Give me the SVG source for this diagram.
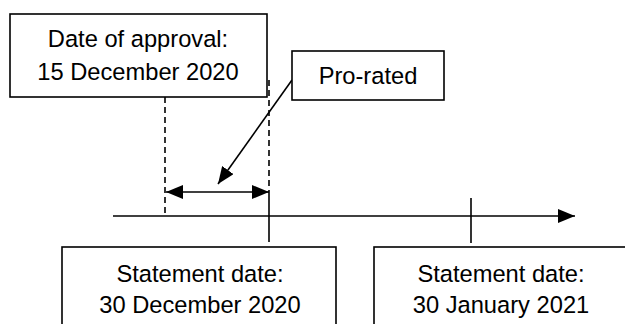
<svg xmlns="http://www.w3.org/2000/svg" width="625" height="324" viewBox="0 0 625 324">
<style>
.box{fill:#fff;stroke:#000;stroke-width:1.6}
.t{font-family:"Liberation Sans",Arial,sans-serif;font-size:23.7px;fill:#000;text-anchor:middle}
.ln{stroke:#000;stroke-width:1.6;fill:none}
.dash{stroke:#000;stroke-width:1.6;fill:none;stroke-dasharray:6,4}
</style>
<defs>
<marker id="ah" markerWidth="17" markerHeight="14" refX="17" refY="7" orient="auto-start-reverse" markerUnits="userSpaceOnUse">
<path d="M0,0 L17,7 L0,14 Z" fill="#000"/>
</marker>
</defs>
<rect width="625" height="324" fill="#fff"/>
<g id="connectors">
<line class="dash" x1="165" y1="97" x2="165" y2="216"/>
<line class="dash" x1="269" y1="80" x2="269" y2="192"/>
<line class="ln" x1="269" y1="192" x2="269" y2="242"/>
<line class="ln" x1="113" y1="216" x2="575" y2="216" marker-end="url(#ah)"/>
<line class="ln" x1="471" y1="198" x2="471" y2="243"/>
<line class="ln" x1="166" y1="192" x2="269" y2="192" marker-start="url(#ah)" marker-end="url(#ah)"/>
<line class="ln" x1="292" y1="80" x2="218" y2="184" marker-end="url(#ah)"/>
</g>
<g id="approval">
<rect class="box" x="10" y="14" width="257" height="83"/>
<text class="t" x="138" y="47">Date of approval:</text>
<text class="t" x="138" y="80">15 December 2020</text>
</g>
<g id="prorated">
<rect class="box" x="292" y="51" width="152" height="49"/>
<text class="t" x="368" y="84">Pro-rated</text>
</g>
<g id="statement1">
<rect class="box" x="62" y="247" width="274" height="90"/>
<text class="t" x="200" y="282">Statement date:</text>
<text class="t" x="200" y="313">30 December 2020</text>
</g>
<g id="statement2">
<rect class="box" x="374" y="247" width="270" height="90"/>
<text class="t" x="501" y="282">Statement date:</text>
<text class="t" x="501" y="313">30 January 2021</text>
</g>
</svg>
